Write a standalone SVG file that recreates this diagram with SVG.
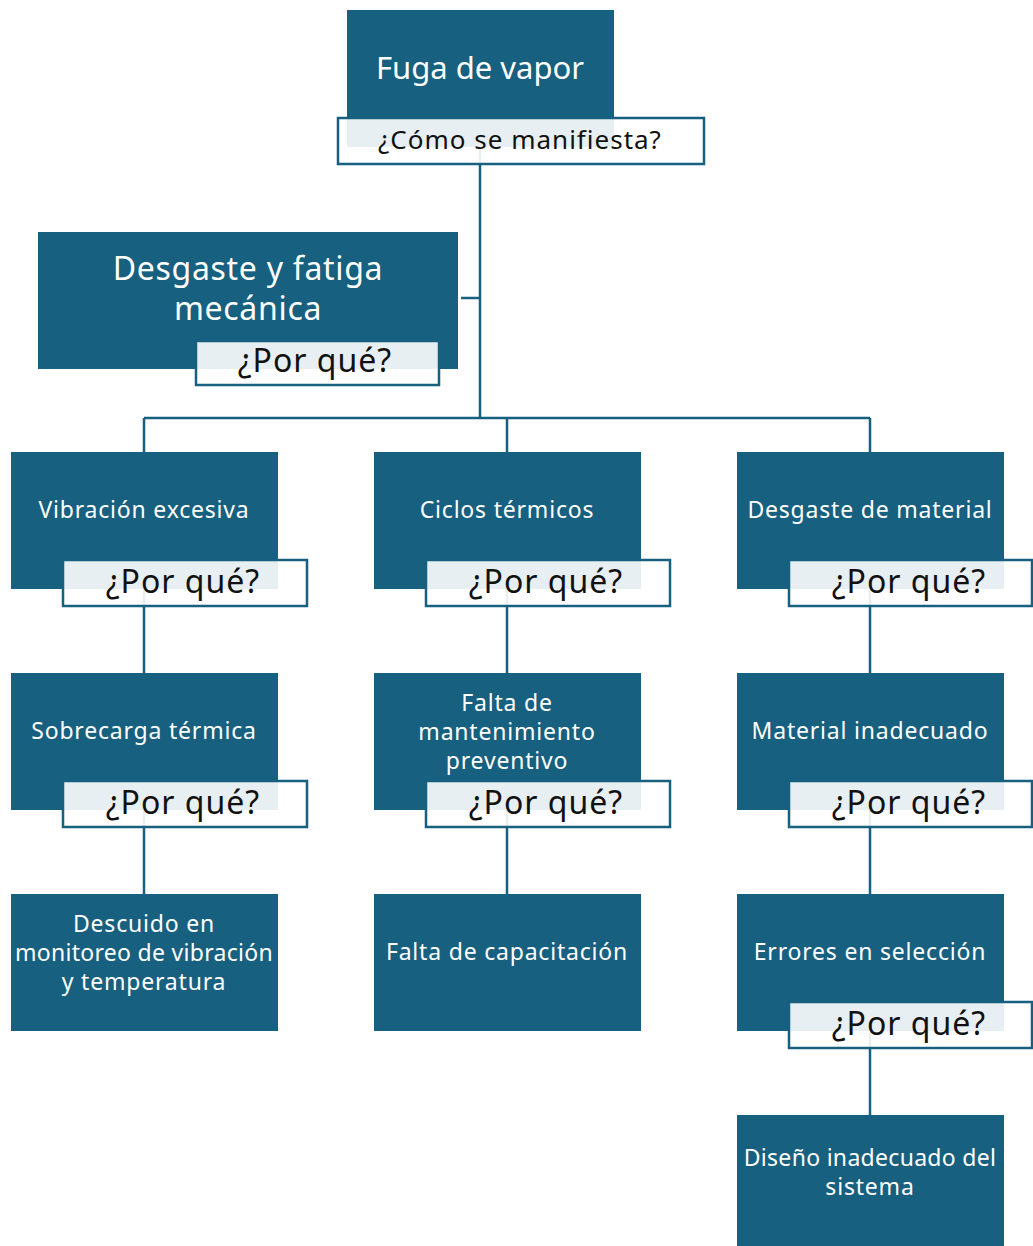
<svg xmlns="http://www.w3.org/2000/svg" width="1033" height="1246" viewBox="0 0 1033 1246">
<style>
.box{fill:#17607f}
.lbl{fill:#ffffff;fill-opacity:0.9;stroke:#17607f;stroke-width:2.5}
.con{stroke:#17607f;stroke-width:2.5;fill:none}
.t{font-family:"Noto Sans","Liberation Sans",sans-serif;fill:#ffffff;text-anchor:middle;font-size:23px;letter-spacing:0.8px}
.tb{font-family:"Noto Sans","Liberation Sans",sans-serif;fill:#ffffff;text-anchor:middle;font-size:32px;letter-spacing:0.7px}
.q{font-family:"Noto Sans","Liberation Sans",sans-serif;fill:#111111;text-anchor:middle;font-size:32px;letter-spacing:1px}
.qs{font-family:"Noto Sans","Liberation Sans",sans-serif;fill:#111111;text-anchor:middle;font-size:26px;letter-spacing:1px}
</style>
<rect width="1033" height="1246" fill="#ffffff"/>
<g id="connectors">
<path class="con" d="M480,150 V418 M461,298 H480 M144,418 H870 M144,418 V452 M507,418 V452 M870,418 V452"/>
<path class="con" d="M144,580 V673 M507,580 V673 M870,580 V673"/>
<path class="con" d="M144,800 V894 M507,800 V894 M870,800 V894"/>
<path class="con" d="M870,1020 V1115"/>
</g>
<g id="n-fuga">
<rect class="box" x="347" y="10" width="267" height="137"/>
<text class="tb" x="480" y="79" style="font-size:31px;letter-spacing:0">Fuga de vapor</text>
<rect class="lbl" x="338" y="118" width="366" height="46"/>
<text class="qs" x="520" y="149">¿Cómo se manifiesta?</text>
</g>
<g id="n-desgaste-fatiga">
<rect class="box" x="38" y="232" width="420" height="137"/>
<text class="tb" x="248" y="280">Desgaste y fatiga</text>
<text class="tb" x="248" y="320">mecánica</text>
<rect class="lbl" x="196" y="341" width="243" height="44"/>
<text class="q" x="315" y="372">¿Por qué?</text>
</g>
<g id="n-vibracion">
<rect class="box" x="11" y="452" width="267" height="137"/>
<text class="t" x="144" y="518">Vibración excesiva</text>
<rect class="lbl" x="63" y="560" width="244" height="46"/>
<text class="q" x="183" y="593">¿Por qué?</text>
</g>
<g id="n-ciclos">
<rect class="box" x="374" y="452" width="267" height="137"/>
<text class="t" x="507" y="518">Ciclos térmicos</text>
<rect class="lbl" x="426" y="560" width="244" height="46"/>
<text class="q" x="546" y="593">¿Por qué?</text>
</g>
<g id="n-desgaste-material">
<rect class="box" x="737" y="452" width="267" height="137"/>
<text class="t" x="870" y="518">Desgaste de material</text>
<rect class="lbl" x="789" y="560" width="243" height="46"/>
<text class="q" x="909" y="593">¿Por qué?</text>
</g>
<g id="n-sobrecarga">
<rect class="box" x="11" y="673" width="267" height="137"/>
<text class="t" x="144" y="739">Sobrecarga térmica</text>
<rect class="lbl" x="63" y="781" width="244" height="46"/>
<text class="q" x="183" y="814">¿Por qué?</text>
</g>
<g id="n-falta-mant">
<rect class="box" x="374" y="673" width="267" height="137"/>
<text class="t" x="507" y="711">Falta de</text>
<text class="t" x="507" y="740">mantenimiento</text>
<text class="t" x="507" y="769">preventivo</text>
<rect class="lbl" x="426" y="781" width="244" height="46"/>
<text class="q" x="546" y="814">¿Por qué?</text>
</g>
<g id="n-material">
<rect class="box" x="737" y="673" width="267" height="137"/>
<text class="t" x="870" y="739">Material inadecuado</text>
<rect class="lbl" x="789" y="781" width="243" height="46"/>
<text class="q" x="909" y="814">¿Por qué?</text>
</g>
<g id="n-descuido">
<rect class="box" x="11" y="894" width="267" height="137"/>
<text class="t" x="144" y="932">Descuido en</text>
<text class="t" x="144" y="961" style="letter-spacing:0.3px">monitoreo de vibración</text>
<text class="t" x="144" y="990">y temperatura</text>
</g>
<g id="n-capacitacion">
<rect class="box" x="374" y="894" width="267" height="137"/>
<text class="t" x="507" y="960">Falta de capacitación</text>
</g>
<g id="n-errores">
<rect class="box" x="737" y="894" width="267" height="137"/>
<text class="t" x="870" y="960">Errores en selección</text>
<rect class="lbl" x="789" y="1002" width="243" height="46"/>
<text class="q" x="909" y="1035">¿Por qué?</text>
</g>
<g id="n-diseno">
<rect class="box" x="737" y="1115" width="267" height="137"/>
<text class="t" x="870" y="1166" style="letter-spacing:0.3px">Diseño inadecuado del</text>
<text class="t" x="870" y="1195">sistema</text>
</g>
</svg>
